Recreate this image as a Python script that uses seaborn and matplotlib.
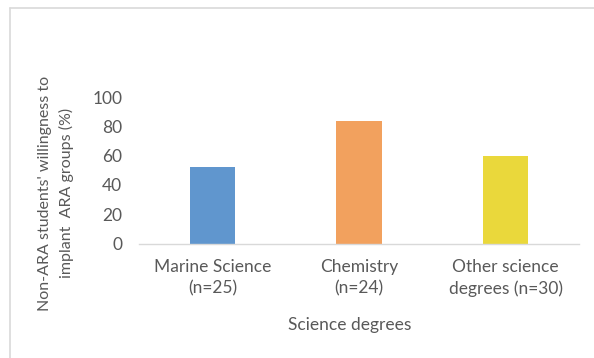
import matplotlib
matplotlib.use("Agg")
import matplotlib.pyplot as plt
from matplotlib.lines import Line2D
import seaborn as sns
import pandas as pd

# Share of non-ARA students willing to implant ARA groups, by degree
degrees = ["Marine Science\n(n=25)", "Chemistry\n(n=24)", "Other science\ndegrees (n=30)"]
willingness = [52.0, 83.3, 60.0]
bar_colors = ["#6096CE", "#F2A15E", "#EAD83B"]
y_ticks = [0, 20, 40, 60, 80, 100]

sns.set_theme(style="white")
plt.rcParams["font.family"] = ["Lato", "DejaVu Sans"]

text_grey = "#595959"
fs = 12.5

df = pd.DataFrame({"degree": degrees, "willingness": willingness})

fig = plt.figure(figsize=(5.94, 3.58), dpi=100)
ax = fig.add_axes([139 / 594, 1 - 243.5 / 358, (579 - 139) / 594, (243.5 - 97) / 358])

sns.barplot(data=df, x="degree", y="willingness", hue="degree",
            palette=bar_colors, width=0.31, legend=False, ax=ax,
            saturation=1, edgecolor="none")

ax.set_ylim(0, 100)
ax.set_yticks(y_ticks)
ax.set_yticklabels([str(t) for t in y_ticks])
ax.tick_params(axis="both", length=0, labelsize=fs, labelcolor=text_grey)
ax.tick_params(axis="y", pad=12)
ax.tick_params(axis="x", pad=11)
for lbl in ax.get_xticklabels():
    lbl.set_linespacing(1.4)

for side in ["left", "right", "top"]:
    ax.spines[side].set_visible(False)
ax.spines["bottom"].set_color("#D9D9D9")
ax.spines["bottom"].set_linewidth(1.0)

ax.set_xlabel("")
ax.set_ylabel("")
fig.text(350 / 594, 1 - 325 / 358, "Science degrees", ha="center", va="center",
         fontsize=fs, color=text_grey)
fig.text(56 / 594, 1 - 193 / 358,
         "Non-ARA students' willingness to\nimplant  ARA groups (%)",
         rotation=90, ha="center", va="center", fontsize=11.5, color=text_grey,
         linespacing=1.5, multialignment="center")

# Chart frame on the left and top edges
frame = "#D9D9D9"
fig.add_artist(Line2D([10 / 594, 10 / 594], [0, 1 - 8 / 358],
                      transform=fig.transFigure, color=frame, lw=1.2))
fig.add_artist(Line2D([10 / 594, 1], [1 - 8 / 358, 1 - 8 / 358],
                      transform=fig.transFigure, color=frame, lw=1.2))

fig.savefig("out.png", dpi=100)
